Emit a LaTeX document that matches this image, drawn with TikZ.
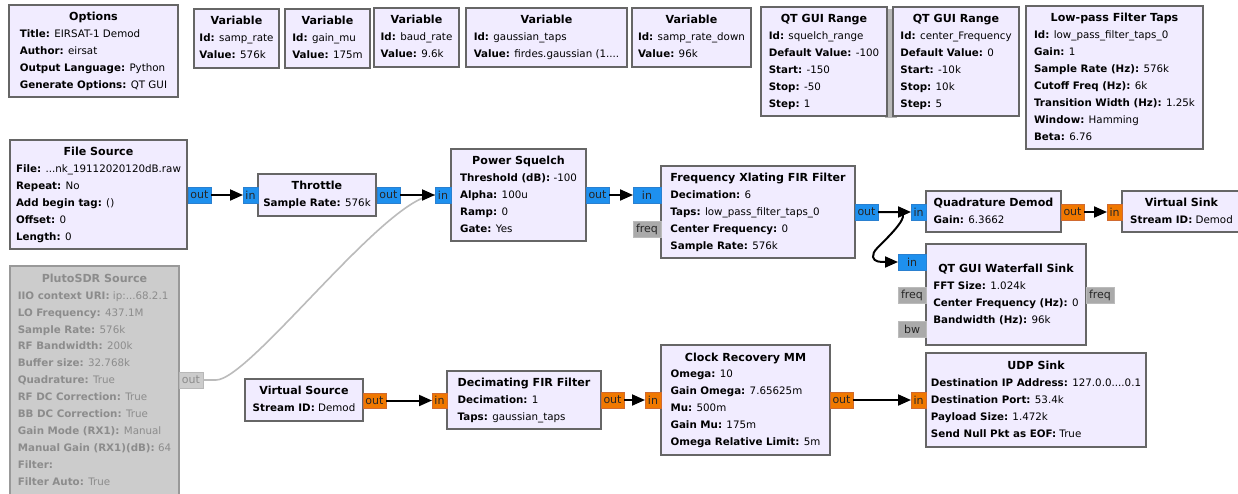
\documentclass[tikz,border=0pt]{standalone}
\usepackage{fontspec}
\usepackage{array}
\setmainfont{DejaVu Sans}
\usetikzlibrary{arrows.meta}
\definecolor{blockfill}{HTML}{F1ECFF}
\definecolor{blockedge}{HTML}{666666}
\definecolor{offfill}{HTML}{CCCCCC}
\definecolor{offedge}{HTML}{999999}
\definecolor{offtext}{HTML}{8C8C8C}
\definecolor{blueport}{HTML}{1E90EE}
\definecolor{blueedge}{HTML}{2A80D0}
\definecolor{orangeport}{HTML}{F07800}
\definecolor{orangeedge}{HTML}{D06A30}
\definecolor{greyport}{HTML}{AAAAAA}
\definecolor{greyedge}{HTML}{BBBBBB}
\definecolor{offwire}{HTML}{BBBBBB}
\newcommand{\blocktext}{\fontsize{10.3}{16.95}\selectfont}
\newcommand{\titletext}{\fontsize{11.1}{16.95}\selectfont\bfseries}
\tikzset{
  blockbox/.style={draw=blockedge,fill=blockfill,line width=2pt,inner sep=0pt,outer sep=0pt,text=black,font=\blocktext},
  offbox/.style={draw=offedge,fill=offfill,line width=2pt,inner sep=0pt,outer sep=0pt,text=offtext,font=\blocktext},
  portbase/.style={line width=1pt,inner sep=0pt,outer sep=0pt,text=black!85,font=\fontsize{11}{12}\selectfont},
  blueout/.style={portbase,draw=blueedge,fill=blueport},
  orangeout/.style={portbase,draw=orangeedge,fill=orangeport},
  greyout/.style={portbase,draw=greyedge,fill=greyport},
  offout/.style={portbase,draw=offedge!70,fill=offfill,text=offtext},
  wire/.style={draw=black,line width=2pt,-{Triangle[length=13pt,width=11pt]}},
  offline/.style={draw=offwire,line width=1.6pt}
}
% style, name, x1, y1, x2, y2, title, lines
\newcommand{\blk}[8]{%
  \node[#1,minimum width={(#5-#3)*1pt},minimum height={(#6-#4)*1pt}] (#2) at ({(#3+#5)/2},{(#4+#6)/2})
  {\begin{tabular}{@{}l@{}}\multicolumn{1}{@{}c@{}}{\titletext #7}\\#8\end{tabular}};}
% style, name, x1, y1, x2, y2, label
\newcommand{\prt}[7]{%
  \node[#1,minimum width={(#5-#3)*1pt},minimum height={(#6-#4)*1pt}] (#2) at ({(#3+#5)/2},{(#4+#6)/2}) {#7};}
\newcommand{\kv}[2]{\textbf{#1:} #2}
\begin{document}
\begin{tikzpicture}[x=1pt,y=-1pt]
\useasboundingbox (0,0) rectangle (1238,493);
\clip (0,0) rectangle (1238,493);

% grey sliver between the two range blocks
\fill[black!28] (885,9) rectangle (897,118);

% top row
\blk{blockbox}{options}{9}{5}{178}{97}{Options}{\kv{Title}{EIRSAT-1 Demod}\\\kv{Author}{eirsat}\\\kv{Output Language}{Python}\\\kv{Generate Options}{QT GUI}}
\blk{blockbox}{varrate}{194}{9}{279}{68}{Variable}{\kv{Id}{samp\_rate}\\\kv{Value}{576k}}
\blk{blockbox}{varmu}{285}{9}{370}{68}{Variable}{\kv{Id}{gain\_mu}\\\kv{Value}{175m}}
\blk{blockbox}{varbaud}{374}{8}{459}{67}{Variable}{\kv{Id}{baud\_rate}\\\kv{Value}{9.6k}}
\blk{blockbox}{vargauss}{466}{8}{627}{67}{Variable}{\kv{Id}{gaussian\_taps}\\\kv{Value}{firdes.gaussian (1....}}
\blk{blockbox}{vardown}{632}{8}{751}{67}{Variable}{\kv{Id}{samp\_rate\_down}\\\kv{Value}{96k}}
\blk{blockbox}{rangesq}{761}{7}{887}{116}{QT GUI Range}{\kv{Id}{squelch\_range}\\\kv{Default Value}{-100}\\\kv{Start}{-150}\\\kv{Stop}{-50}\\\kv{Step}{1}}
\blk{blockbox}{rangecf}{893}{7}{1019}{116}{QT GUI Range}{\kv{Id}{center\_Frequency}\\\kv{Default Value}{0}\\\kv{Start}{-10k}\\\kv{Stop}{10k}\\\kv{Step}{5}}
\blk{blockbox}{lowpass}{1026}{6}{1203}{149}{Low-pass Filter Taps}{\kv{Id}{low\_pass\_filter\_taps\_0}\\\kv{Gain}{1}\\\kv{Sample Rate (Hz)}{576k}\\\kv{Cutoff Freq (Hz)}{6k}\\\kv{Transition Width (Hz)}{1.25k}\\\kv{Window}{Hamming}\\\kv{Beta}{6.76}}

% flow row 1
\blk{blockbox}{filesrc}{10}{140}{187}{249}{File Source}{\kv{File}{...nk\_19112020120dB.raw}\\\kv{Repeat}{No}\\\kv{Add begin tag}{()}\\\kv{Offset}{0}\\\kv{Length}{0}}
\blk{blockbox}{throttle}{258}{174}{376}{216}{Throttle}{\kv{Sample Rate}{576k}}
\blk{blockbox}{squelch}{451}{149}{586}{241}{Power Squelch}{\kv{Threshold (dB)}{-100}\\\kv{Alpha}{100u}\\\kv{Ramp}{0}\\\kv{Gate}{Yes}}
\blk{blockbox}{xlating}{661}{166}{855}{258}{Frequency Xlating FIR Filter}{\kv{Decimation}{6}\\\kv{Taps}{low\_pass\_filter\_taps\_0}\\\kv{Center Frequency}{0}\\\kv{Sample Rate}{576k}}
\blk{blockbox}{quad}{926}{191}{1061}{232}{Quadrature Demod}{\kv{Gain}{6.3662}}
\blk{blockbox}{vsink}{1122}{191}{1241}{232}{Virtual Sink}{\kv{Stream ID}{Demod}}
\blk{blockbox}{waterfall}{926}{244}{1086}{345}{QT GUI Waterfall Sink}{\kv{FFT Size}{1.024k}\\\kv{Center Frequency (Hz)}{0}\\\kv{Bandwidth (Hz)}{96k}}

% flow row 2
\blk{offbox}{pluto}{10}{266}{179}{495}{PlutoSDR Source}{\kv{IIO context URI}{ip:...68.2.1}\\\kv{LO Frequency}{437.1M}\\\kv{Sample Rate}{576k}\\\kv{RF Bandwidth}{200k}\\\kv{Buffer size}{32.768k}\\\kv{Quadrature}{True}\\\kv{RF DC Correction}{True}\\\kv{BB DC Correction}{True}\\\kv{Gain Mode (RX1)}{Manual}\\\kv{Manual Gain (RX1)(dB)}{64}\\\textbf{Filter:}\\\kv{Filter Auto}{True}}
\blk{blockbox}{vsource}{245}{379}{363}{421}{Virtual Source}{\kv{Stream ID}{Demod}}
\blk{blockbox}{decim}{447}{371}{601}{429}{Decimating FIR Filter}{\kv{Decimation}{1}\\\kv{Taps}{gaussian\_taps}}
\blk{blockbox}{clock}{661}{345}{830}{455}{Clock Recovery MM}{\kv{Omega}{10}\\\kv{Gain Omega}{7.65625m}\\\kv{Mu}{500m}\\\kv{Gain Mu}{175m}\\\kv{Omega Relative Limit}{5m}}
\blk{blockbox}{udp}{926}{353}{1146}{447}{UDP Sink}{\kv{Destination IP Address}{127.0.0....0.1}\\\kv{Destination Port}{53.4k}\\\kv{Payload Size}{1.472k}\\\kv{Send Null Pkt as EOF}{True}}

% ports
\prt{blueout}{fileout}{188}{187}{211}{203}{out}
\prt{blueout}{thrin}{243}{187}{258}{203}{in}
\prt{blueout}{throut}{377}{187}{400}{203}{out}
\prt{blueout}{sqin}{435}{187}{451}{203}{in}
\prt{blueout}{sqout}{586}{187}{609}{203}{out}
\prt{blueout}{xlin}{633}{187}{661}{203}{in}
\prt{greyout}{xlfreq}{633}{221}{661}{237}{freq}
\prt{blueout}{xlout}{855}{204}{878}{220}{out}
\prt{blueout}{quadin}{911}{204}{926}{220}{in}
\prt{orangeout}{quadout}{1061}{204}{1084}{220}{out}
\prt{orangeout}{vsinkin}{1107}{204}{1122}{220}{in}
\prt{blueout}{wfin}{898}{254}{926}{270}{in}
\prt{greyout}{wffreq}{898}{287}{926}{303}{freq}
\prt{greyout}{wfbw}{898}{321}{926}{337}{bw}
\prt{greyout}{wffreqout}{1086}{287}{1114}{303}{freq}
\prt{offout}{plutoout}{179}{372}{203}{388}{out}
\prt{orangeout}{vsrcout}{363}{393}{386}{408}{out}
\prt{orangeout}{decin}{432}{393}{447}{408}{in}
\prt{orangeout}{decout}{601}{392}{624}{408}{out}
\prt{orangeout}{clkin}{645}{392}{661}{408}{in}
\prt{orangeout}{clkout}{830}{392}{853}{408}{out}
\prt{orangeout}{udpin}{911}{392}{926}{408}{in}

% connectors
\draw[offline] (plutoout.east) -- ++(13,0) .. controls ++(34,0) and (387,195) .. (sqin.west);
\draw[wire] (fileout.east) -- (thrin.west);
\draw[wire] (throut.east) -- (sqin.west);
\draw[wire] (sqout.east) -- (xlin.west);
\draw[wire] (xlout.east) -- (quadin.west);
\draw[wire] (quadout.east) -- (vsinkin.west);
\draw[wire] (xlout.east) -- (897,212) .. controls (906,212) and (906,218) .. (890,235) .. controls (880,246) and (872,251) .. (873,257) .. controls (874,262) and (880,262) .. (wfin.west);
\draw[wire] (vsrcout.east) -- (decin.west);
\draw[wire] (decout.east) -- (clkin.west);
\draw[wire] (clkout.east) -- (udpin.west);
\end{tikzpicture}
\end{document}
